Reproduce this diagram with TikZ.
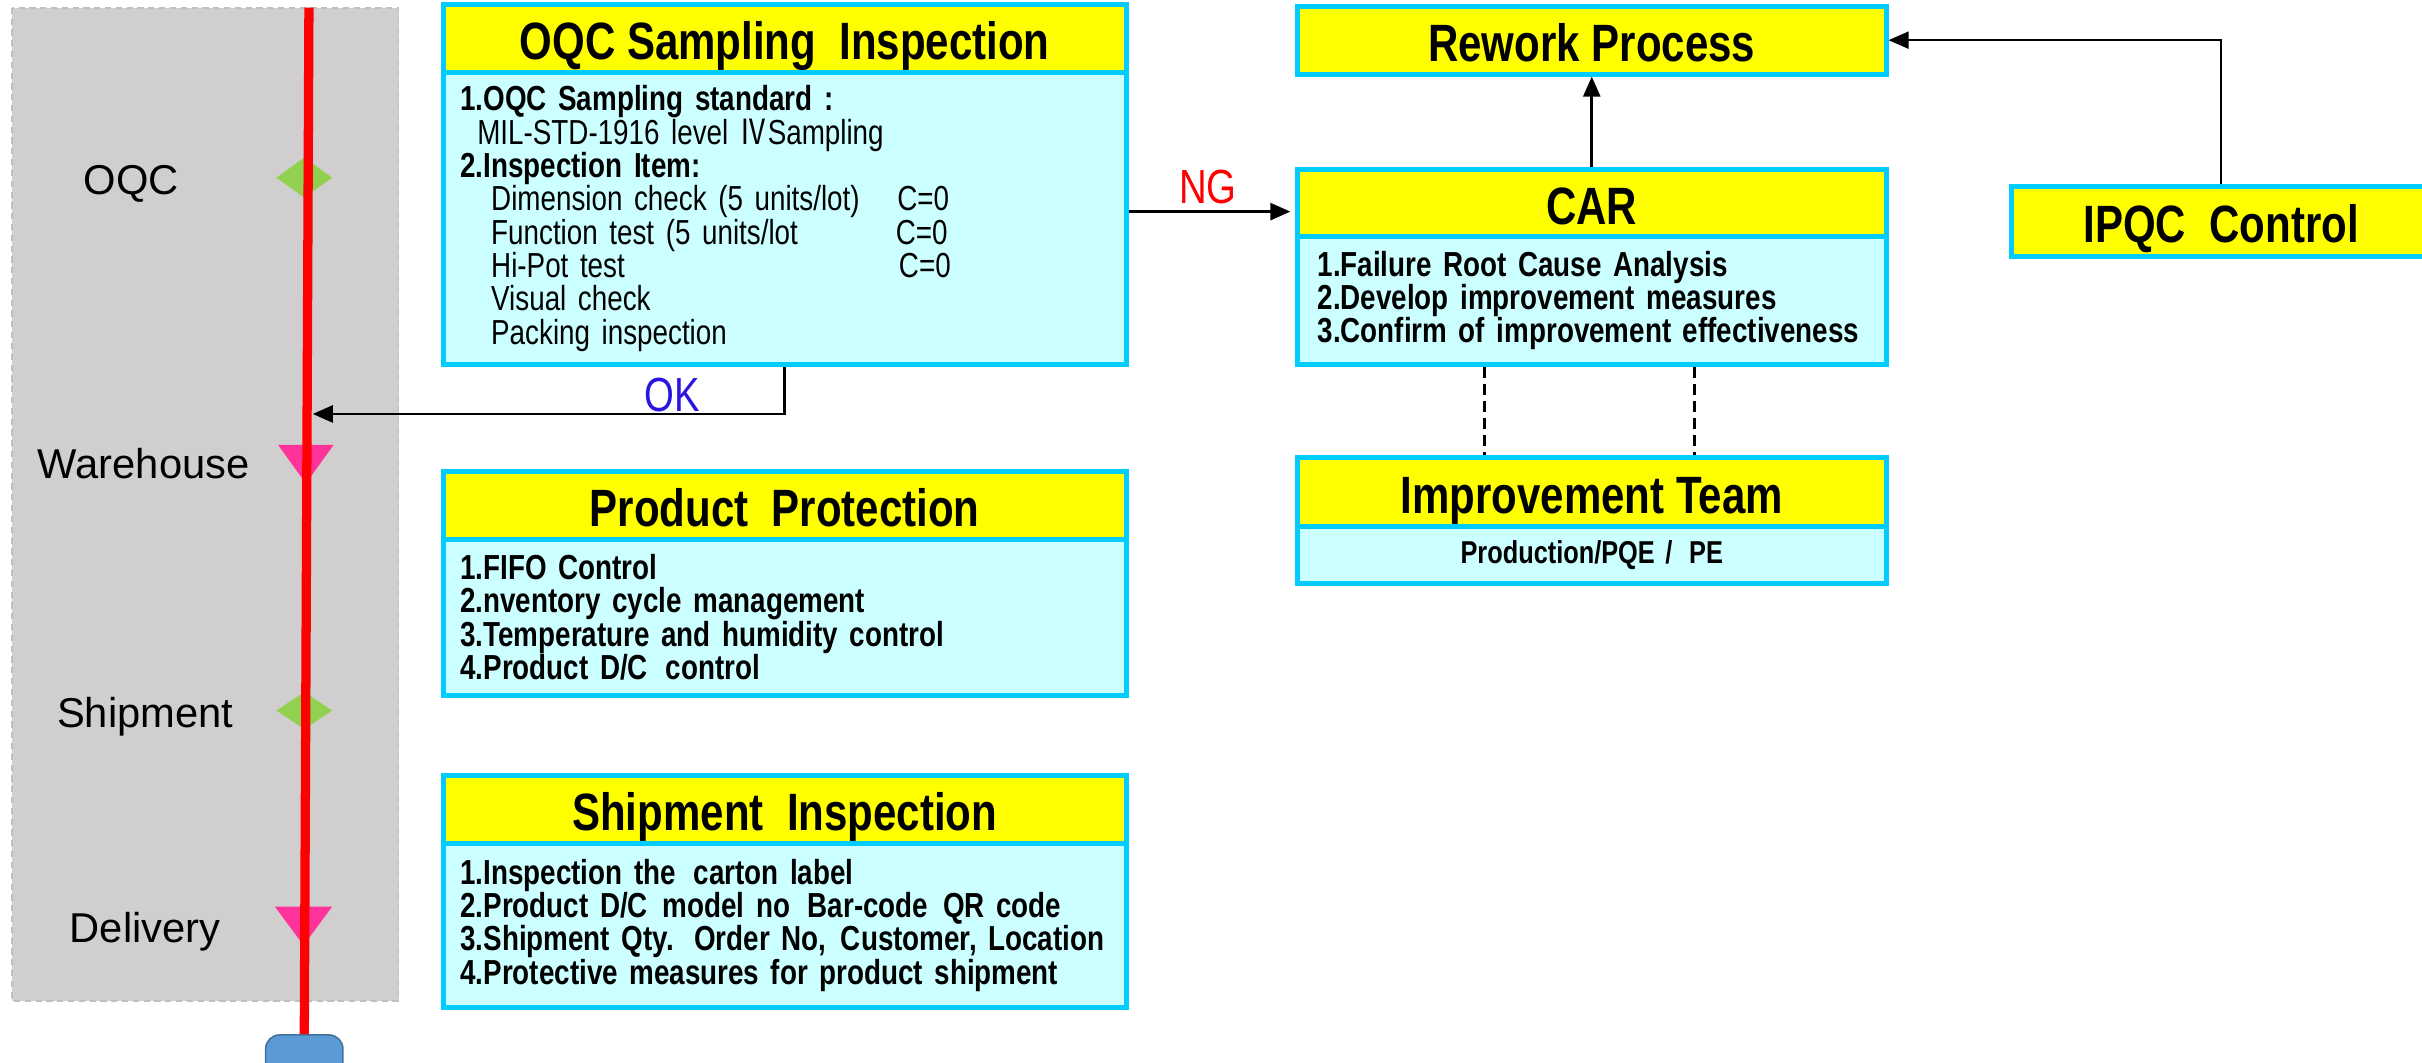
\documentclass[tikz,border=0pt]{standalone}
\usepackage{fontspec}
\setmainfont{Liberation Sans}
\newfontfamily\cond{Liberation Sans}[FakeStretch=0.8]
\newfontfamily\cjk{Noto Sans CJK SC}[FakeStretch=0.8]
\usetikzlibrary{arrows.meta}
\definecolor{cyanb}{HTML}{00CCFF}
\definecolor{lcyan}{HTML}{CCFFFF}
\definecolor{ylw}{HTML}{FFFF00}
\definecolor{panelgray}{HTML}{D0CECE}
\definecolor{panelborder}{HTML}{BFBFBF}
\definecolor{mkgreen}{HTML}{92D050}
\definecolor{mkpink}{HTML}{FF3399}
\definecolor{capblue}{HTML}{5B9BD5}
\definecolor{capedge}{HTML}{41719C}
\definecolor{okblue}{HTML}{2A14E0}
\newcommand{\gap}{\hspace{4pt}}
\newcommand{\sgap}{\hspace{2pt}}
\begin{document}
\begin{tikzpicture}[x=1pt,y=-1pt,
  hdr/.style={draw=cyanb,line width=3.2pt,fill=ylw,inner sep=0pt,minimum height=44pt,
    text height=29pt,text depth=1.6pt,
    font=\cond\bfseries\fontsize{34}{34}\selectfont},
  bodybox/.style={draw=cyanb,line width=3.2pt,fill=lcyan,align=left,inner xsep=11pt,inner ysep=0pt,
    font=\cond\bfseries\fontsize{22.5}{21.6}\selectfont},
  stagelbl/.style={font=\fontsize{27}{27}\selectfont,inner sep=0pt},
  flowlbl/.style={font=\cond\fontsize{31}{31}\selectfont,inner sep=0pt},
  arr/.style={line width=1.8pt,-{Triangle[length=13pt,width=11pt]}},
  thinarr/.style={line width=1.2pt,-{Triangle[length=13pt,width=11pt]}},
  dashln/.style={line width=1.8pt,dash pattern=on 7pt off 4pt},
  panel/.style={fill=panelgray,draw=panelborder,line width=1.2pt,dash pattern=on 4pt off 3pt}]
\useasboundingbox (0,0) rectangle (1568,688);
\clip (0,0) rectangle (1568,688);

% left process panel
\draw[panel] (8,5) rectangle (258,648);
\node[stagelbl] (lOQC) at (85,119) {OQC};
\node[stagelbl] (lWH) at (93,300) {Warehouse};
\node[stagelbl] (lSh) at (94,464) {Shipment};
\node[stagelbl] (lDel) at (94,603) {Delivery};
\fill[mkgreen] (179,115) -- (197,102) -- (215,115) -- (197,128) -- cycle;
\fill[mkgreen] (179,460) -- (197,448) -- (215,460) -- (197,472) -- cycle;
\fill[mkpink] (180,288) -- (216,288) -- (198,313) -- cycle;
\fill[mkpink] (178,587) -- (215,587) -- (196.5,612) -- cycle;
\node[draw=capedge,fill=capblue,line width=1pt,rounded corners=9pt,minimum width=50pt,
      minimum height=34pt,inner sep=0pt] (endcap) at (197,687) {};
\coordinate (redtop) at (200,5);
\draw[red,line width=6pt] (redtop) -- (endcap.north);

% OQC sampling inspection
\node[bodybox,text width=420pt,minimum height=189pt,font=\cond\fontsize{22.5}{21.6}\selectfont]
  (oqcb) at (508,141.5) {%
  {\bfseries 1.OQC Sampling standard :}\\
  \hspace*{11pt}MIL-STD-1916 level {\cjk Ⅳ}Sampling\\
  {\bfseries 2.Inspection Item:}\\
  \hspace*{20pt}\makebox[263pt][l]{Dimension check (5 units/lot)}C=0\\
  \hspace*{20pt}\makebox[262pt][l]{Function test (5 units/lot}C=0\\
  \hspace*{20pt}\makebox[264pt][l]{Hi-Pot test}C=0\\
  \hspace*{20pt}Visual check\\
  \hspace*{20pt}Packing inspection};
\node[hdr,minimum width=442pt] (oqch) at (508,25) {OQC Sampling\ \ Inspection};

% product protection
\node[bodybox,text width=420pt,minimum height=101pt] (ppb) at (508,399.5) {%
  1.FIFO Control\\
  2.nventory cycle management\\
  3.Temperature and humidity control\\
  4.Product D/C \gap control};
\node[hdr,minimum width=442pt] (pph) at (508,327) {Product\ \ Protection};

% shipment inspection
\node[bodybox,text width=420pt,minimum height=106pt] (sib) at (508,599) {%
  \mbox{1.Inspection the \gap carton label}\\
  \mbox{2.Product D/C \sgap model no \gap Bar-code \sgap QR code}\\
  \mbox{3.Shipment Qty. \sgap Order No, \sgap Customer, Location}\\
  \mbox{4.Protective measures for product shipment}};
\node[hdr,minimum width=442pt] (sih) at (508,524) {Shipment\ \ Inspection};

% rework / CAR / team
\node[hdr,minimum width=381pt] (rework) at (1030.5,26) {Rework Process};
\node[bodybox,text width=355pt,inner xsep=13pt,minimum height=83pt] (carb) at (1030.5,194.5) {%
  1.Failure Root Cause Analysis\\
  2.Develop improvement measures\\
  3.Confirm of improvement effectiveness};
\node[hdr,minimum width=381pt,minimum height=43pt] (carh) at (1030.5,131.5) {CAR};
\node[bodybox,text width=355pt,inner xsep=13pt,align=center,minimum height=37pt,
      font=\cond\bfseries\fontsize{20.5}{20}\selectfont] (teamb) at (1030.5,359.5) {Production/PQE / \gap PE};
\node[hdr,minimum width=381pt,minimum height=45pt] (teamh) at (1030.5,318.5) {Improvement Team};
\node[hdr,minimum width=272pt,minimum height=45pt] (ipqc) at (1438,143.5) {IPQC\ \ Control};

% connectors
\coordinate (okend) at (202.5,268);
\draw[arr] (oqcb.south) |- (okend);
\node[flowlbl,text=okblue] (oklbl) at (435,256) {OK};
\coordinate (ngy) at (0,137);
\draw[arr,shorten >=3pt] (oqcb.east |- ngy) -- (carh.west |- ngy);
\node[flowlbl,text=red] (nglbl) at (782,121) {NG};
\draw[arr] (carh.north) -- (rework.south);
\draw[thinarr] (ipqc.north) |- (rework.east);
\coordinate (dx1) at (961,0);
\coordinate (dx2) at (1097,0);
\draw[dashln] (carb.south -| dx1) -- (teamh.north -| dx1);
\draw[dashln] (carb.south -| dx2) -- (teamh.north -| dx2);
\end{tikzpicture}
\end{document}
